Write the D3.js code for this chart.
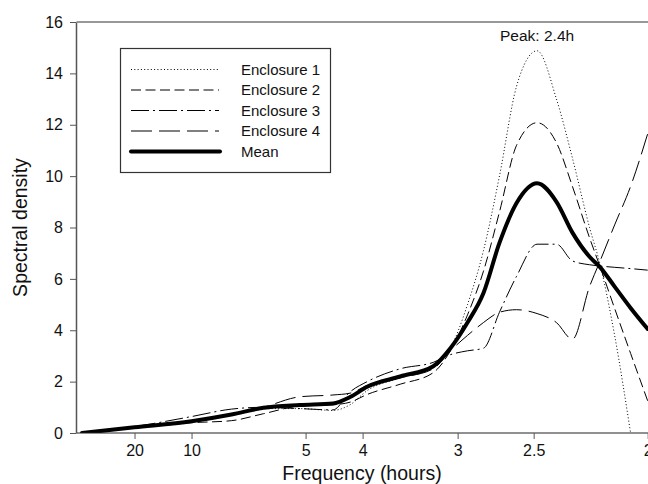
<!DOCTYPE html>
<html>
<head>
<meta charset="utf-8">
<script src="https://cdn.jsdelivr.net/npm/d3@7"></script>
<style>
  body { margin: 0; background: #fff; }
  svg text { font-family: "Liberation Sans", Arial, sans-serif; fill: #111; }
</style>
</head>
<body>
<div id="chart"></div>
<script>
// frequency (1/hours) grid shared by all series
const freq = [0.004, 0.05, 0.1, 0.135, 0.163, 0.195, 0.224, 0.239, 0.254, 0.283, 0.312, 0.327,
              0.342, 0.356, 0.370, 0.385, 0.403, 0.420, 0.434, 0.449, 0.458, 0.471, 0.485, 0.5];

const enclosure1 = [0, 0.2, 0.45, 0.7, 0.95, 0.95, 0.88, 1.1, 1.65, 2.15, 2.6, 3.3,
                    5.0, 7.1, 10.0, 13.5, 14.88, 13.0, 10.7, 8.0, 6.6, 3.8, 0, null];
const enclosure2 = [0, 0.2, 0.4, 0.48, 0.75, 1.05, 1.1, 1.2, 1.5, 1.9, 2.35, 3.2,
                    4.6, 6.3, 8.6, 11.2, 12.08, 11.3, 9.6, 7.6, 6.5, 4.85, 3.1, 1.25];
const enclosure3 = [0, 0.25, 0.64, 0.93, 1.0, 0.95, 0.9, 1.6, 2.0, 2.5, 2.75, 3.05,
                    3.2, 3.3, 4.7, 6.1, 7.35, 7.35, 6.7, 6.55, 6.5, 6.45, 6.4, 6.34];
const enclosure4 = [0, 0.2, 0.42, 0.7, 1.0, 1.41, 1.48, 1.55, 1.85, 2.15, 2.5, 3.2,
                    3.8, 4.3, 4.7, 4.8, 4.65, 4.3, 3.65, 5.7, 6.67, 8.1, 9.6, 11.65];
const meanDensity = [0, 0.22, 0.46, 0.72, 0.98, 1.09, 1.15, 1.4, 1.8, 2.2, 2.6, 3.3,
                     4.3, 5.45, 7.4, 8.95, 9.72, 9.0, 7.8, 6.86, 6.47, 5.7, 4.87, 4.05];

const periodTicks = [20, 10, 5, 4, 3, 2.5, 2];
const yTicks = [0, 2, 4, 6, 8, 10, 12, 14, 16];

const series = [
  { name: "Enclosure 1", values: enclosure1, dash: "1,2.3", width: 1 },
  { name: "Enclosure 2", values: enclosure2, dash: "10,4.5", width: 1 },
  { name: "Enclosure 3", values: enclosure3, dash: "18,4,2,4", width: 1 },
  { name: "Enclosure 4", values: enclosure4, dash: "21,7", width: 1 },
  { name: "Mean", values: meanDensity, dash: null, width: 4 }
];

const width = 648, height = 484;
const margin = { top: 22, right: 0, bottom: 51, left: 77 };

const svg = d3.select("#chart").append("svg")
    .attr("width", width)
    .attr("height", height);

const x = d3.scaleLinear().domain([0, 0.5]).range([margin.left + 0.5, width - 0.3]);
const y = d3.scaleLinear().domain([0, 16]).range([height - margin.bottom, margin.top]);

svg.append("defs").append("clipPath").attr("id", "plot-clip")
  .append("rect")
    .attr("x", margin.left)
    .attr("y", margin.top)
    .attr("width", width - margin.left)
    .attr("height", height - margin.top - margin.bottom);

// frame top line
svg.append("line")
    .attr("x1", margin.left - 0.5).attr("x2", width)
    .attr("y1", y(16)).attr("y2", y(16))
    .attr("stroke", "#333").attr("stroke-width", 1.2);

const line = d3.line()
    .defined(d => d[1] != null)
    .x(d => x(d[0]))
    .y(d => y(d[1]))
    .curve(d3.curveMonotoneX);

const plot = svg.append("g").attr("clip-path", "url(#plot-clip)");
series.forEach(s => {
  plot.append("path")
      .datum(freq.map((f, i) => [f, s.values[i]]))
      .attr("fill", "none")
      .attr("stroke", "#000")
      .attr("stroke-width", s.width)
      .attr("stroke-dasharray", s.dash)
      .attr("stroke-linecap", s.dash ? "butt" : "round")
      .attr("d", line);
});

// axes
const xAxis = svg.append("g")
    .attr("transform", `translate(0,${y(0)})`)
    .call(d3.axisBottom(x)
      .tickValues(periodTicks.map(p => 1 / p))
      .tickFormat(f => d3.format("~g")(Math.round(1 / f * 10) / 10))
      .tickSizeInner(6).tickSizeOuter(0).tickPadding(6));
xAxis.select(".domain").attr("stroke", "#222").attr("stroke-width", 1.2)
    .attr("d", `M${margin.left - 0.5},0H${width}`);
xAxis.selectAll(".tick line").attr("stroke", "#555");
xAxis.selectAll(".tick text").attr("font-size", 16).style("fill", "#111");

const yAxis = svg.append("g")
    .attr("transform", `translate(${margin.left - 1},0)`)
    .call(d3.axisLeft(y).tickValues(yTicks).tickSizeInner(6).tickSizeOuter(0).tickPadding(7));
yAxis.select(".domain").attr("stroke", "#555").attr("stroke-width", 1.5);
yAxis.selectAll(".tick line").attr("stroke", "#555");
yAxis.selectAll(".tick text").attr("font-size", 16).style("fill", "#111");

// axis titles
svg.append("text")
    .attr("x", 362).attr("y", 480)
    .attr("text-anchor", "middle")
    .attr("font-size", 19.5)
    .text("Frequency (hours)");

svg.append("text")
    .attr("transform", `translate(27,${(y(0) + y(16)) / 2}) rotate(-90)`)
    .attr("text-anchor", "middle")
    .attr("font-size", 19.5)
    .text("Spectral density");

// peak label
svg.append("text")
    .attr("x", x(0.403)).attr("y", 41)
    .attr("text-anchor", "middle")
    .attr("font-size", 15.5)
    .text("Peak: 2.4h");

// legend
const legend = svg.append("g");
legend.append("rect")
    .attr("x", 120.5).attr("y", 48.5)
    .attr("width", 210).attr("height", 124)
    .attr("fill", "#fff").attr("stroke", "#333").attr("stroke-width", 1.2);

series.forEach((s, i) => {
  const ly = 69.5 + i * 20.5;
  legend.append("line")
      .attr("x1", 131).attr("x2", s.dash ? 219 : 220)
      .attr("y1", ly).attr("y2", ly)
      .attr("stroke", "#000")
      .attr("stroke-width", s.width)
      .attr("stroke-dasharray", s.dash)
      .attr("stroke-linecap", s.dash ? "butt" : "round");
  legend.append("text")
      .attr("x", 241).attr("y", ly + 5)
      .attr("font-size", 15)
      .text(s.name);
});
</script>
</body>
</html>
